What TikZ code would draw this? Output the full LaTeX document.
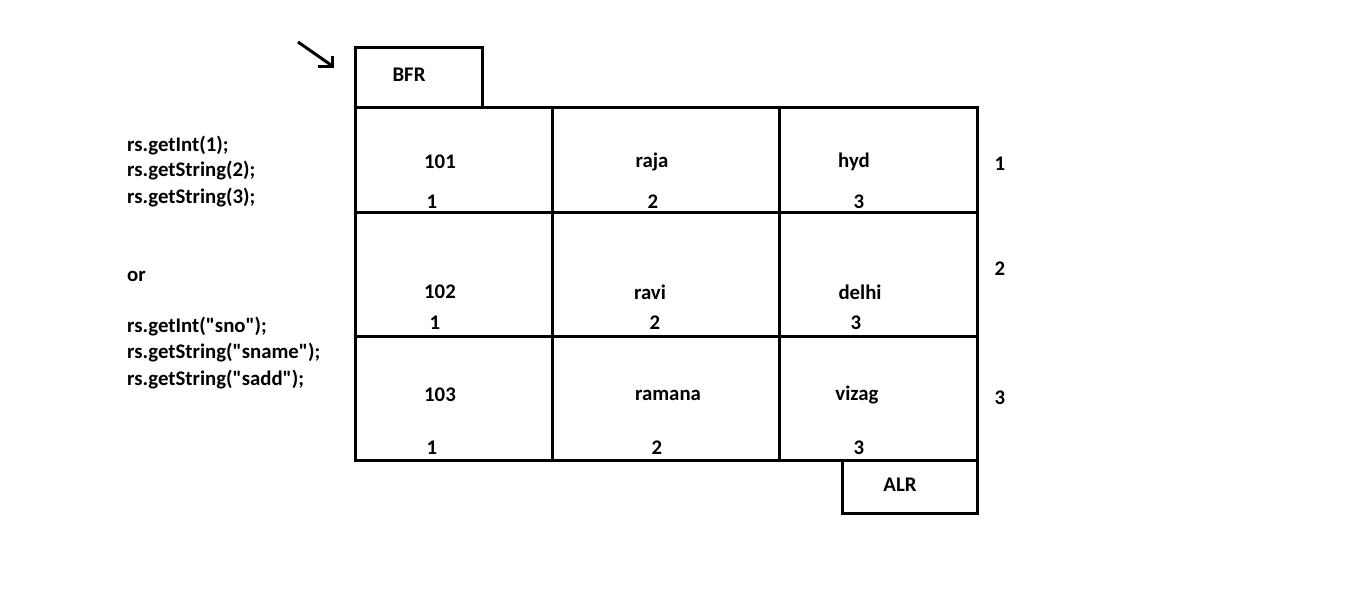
\documentclass[tikz,border=0pt]{standalone}
\usepackage{fontspec}
\setmainfont{Carlito}[Ligatures=TeXOff]
\begin{document}
\begin{tikzpicture}[x=1pt,y=-1pt,
  txt/.style={font=\bfseries\fontsize{20.8}{24}\selectfont, inner sep=0pt},
  lbl/.style={txt, anchor=west},
  ln/.style={line width=3pt, line cap=rect},
  boxn/.style={draw, line width=3pt, inner sep=0pt, outer sep=0pt, anchor=north west}]
\useasboundingbox (0,0) rectangle (1360,613);
% BFR and ALR boxes
\node[boxn, minimum width=127pt, minimum height=60pt] (bfr) at (355,47) {};
\node[txt] (bfrt) at (409,75) {BFR};
\node[boxn, minimum width=135pt, minimum height=53pt] (alr) at (842,460) {};
\node[txt] (alrt) at (900,485) {ALR};
% grid
\draw[ln] (355,107) rectangle (977,460);
\draw[ln] (355,212) -- (977,212);
\draw[ln] (355,336) -- (977,336);
\draw[ln] (552,107) -- (552,460);
\draw[ln] (779,107) -- (779,460);
% arrow
\coordinate (as) at (298,42);
\coordinate (at) at (331,65);
\draw[line width=3pt] (as) -- (at);
\draw[line width=3pt] (318,66) -- (332,66) -- (332,56);
% cell texts
\node[txt] (c11) at (440,162) {101};
\node[txt] (c12) at (652,162) {raja};
\node[txt] (c13) at (854,162) {hyd};
\node[txt] (i11) at (432,202) {1};
\node[txt] (i12) at (653,202) {2};
\node[txt] (i13) at (859,202) {3};
\node[txt] (c21) at (440,292) {102};
\node[txt] (c22) at (650,292) {ravi};
\node[txt] (c23) at (860,292) {delhi};
\node[txt] (i21) at (435,323) {1};
\node[txt] (i22) at (655,323) {2};
\node[txt] (i23) at (856,323) {3};
\node[txt] (c31) at (440,395) {103};
\node[txt] (c32) at (668,395) {ramana};
\node[txt] (c33) at (857,395) {vizag};
\node[txt] (i31) at (432,448) {1};
\node[txt] (i32) at (657,448) {2};
\node[txt] (i33) at (859,448) {3};
% row numbers
\node[txt] (r1) at (1000,164) {1};
\node[txt] (r2) at (1000,269) {2};
\node[txt] (r3) at (1000,398) {3};
% left code
\node[lbl] (l1) at (127,146) {rs.getInt(1);};
\node[lbl] (l2) at (127,171) {rs.getString(2);};
\node[lbl] (l3) at (127,198) {rs.getString(3);};
\node[lbl] (l4) at (127,276) {or};
\node[lbl] (l5) at (127,327) {rs.getInt("sno");};
\node[lbl] (l6) at (127,353) {rs.getString("sname");};
\node[lbl] (l7) at (127,380) {rs.getString("sadd");};
\end{tikzpicture}
\end{document}
